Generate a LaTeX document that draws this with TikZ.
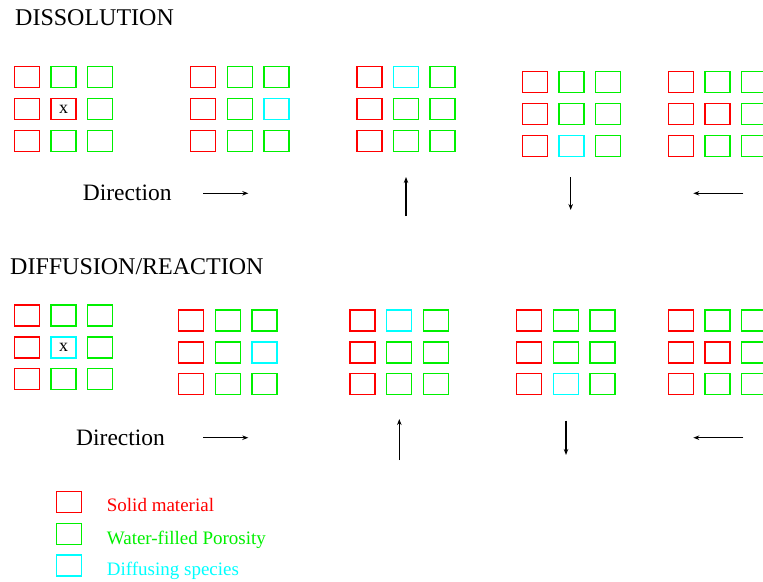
\documentclass[tikz,border=0pt]{standalone}
\usepackage{fontspec}
\setmainfont{Liberation Serif}
\usetikzlibrary{arrows.meta}
\definecolor{solidc}{RGB}{255,0,0}
\definecolor{waterc}{RGB}{0,240,0}
\definecolor{diffc}{RGB}{0,255,255}
\colorlet{r}{solidc}
\colorlet{g}{waterc}
\colorlet{c}{diffc}

% 3x3 block of cells: name, left x, top y, nine colours row by row
\newcommand\cellgrid[4]{%
  \foreach \cc [count=\i from 0] in {#4} {
    \pgfmathtruncatemacro\rr{div(\i,3)}
    \pgfmathtruncatemacro\kk{mod(\i,3)}
    \node[cell, draw=\cc] (#1-\rr\kk) at ({#2+36.7*\kk},{#3+31.8*\rr}) {};
  }%
}

\begin{document}
\begin{tikzpicture}[x=1pt,y=-1pt,
  cell/.style={line width=1.5pt, minimum width=25pt, minimum height=21pt,
    inner sep=0pt, outer sep=0pt, anchor=north west},
  heading/.style={font=\fontsize{24}{24}\selectfont, inner sep=0pt, anchor=base west},
  dirlabel/.style={font=\fontsize{23.5}{23.5}\selectfont, inner sep=0pt, anchor=base west},
  legtext/.style={font=\fontsize{19}{19}\selectfont, inner sep=0pt, anchor=base west},
  xmark/.style={font=\fontsize{18}{18}\selectfont, inner sep=0pt},
  dirarrow/.style={line width=1.1pt, -{Stealth[length=6pt,width=4.5pt]}}]

\useasboundingbox[fill=white] (0,0) rectangle (763,581);

% ---------- Dissolution ----------
\node[heading] (tdis) at (15,25) {DISSOLUTION};

\cellgrid{d1}{14.3}{66.7}{r,g,g, r,r,g, r,g,g}
\node[xmark] (dx) at (d1-11.center) {x};
\cellgrid{d2}{190.7}{66.7}{r,g,g, r,g,c, r,g,g}
\cellgrid{d3}{356.8}{66.7}{r,c,g, r,g,g, r,g,g}
\cellgrid{d4}{522.3}{71.7}{r,g,g, r,g,g, r,c,g}
\cellgrid{d5}{668.3}{71.7}{r,g,g, r,r,g, r,g,g}

\node[dirlabel] (tdir1) at (82.7,200) {Direction};
\coordinate (da1s) at (203.3,193.3);  \coordinate (da1e) at (248.3,193.3);
\coordinate (da2s) at (406,216);      \coordinate (da2e) at (406,177);
\coordinate (da3s) at (570.7,177);    \coordinate (da3e) at (570.7,210);
\coordinate (da4s) at (743.3,193.3);  \coordinate (da4e) at (693.3,193.3);
\draw[dirarrow] (da1s) -- (da1e);
\draw[dirarrow] (da2s) -- (da2e);
\draw[dirarrow] (da3s) -- (da3e);
\draw[dirarrow] (da4s) -- (da4e);

% ---------- Diffusion / reaction ----------
\node[heading] (tdif) at (10,274) {DIFFUSION/REACTION};

\cellgrid{f1}{14.3}{305}{r,g,g, r,c,g, r,g,g}
\node[xmark] (fx) at (f1-11.center) {x};
\cellgrid{f2}{178.7}{310}{r,g,g, r,g,c, r,g,g}
\cellgrid{f3}{350}{310}{r,c,g, r,g,g, r,g,g}
\cellgrid{f4}{516.7}{310}{r,g,g, r,g,g, r,c,g}
\cellgrid{f5}{668.3}{310}{r,g,g, r,r,g, r,g,g}

\node[dirlabel] (tdir2) at (76,445) {Direction};
\coordinate (fa1s) at (203.3,437.7);  \coordinate (fa1e) at (248.3,437.7);
\coordinate (fa2s) at (399.3,460);    \coordinate (fa2e) at (399.3,419);
\coordinate (fa3s) at (566,420.7);    \coordinate (fa3e) at (566,455);
\coordinate (fa4s) at (743.3,437.7);  \coordinate (fa4e) at (693.3,437.7);
\draw[dirarrow] (fa1s) -- (fa1e);
\draw[dirarrow] (fa2s) -- (fa2e);
\draw[dirarrow] (fa3s) -- (fa3e);
\draw[dirarrow] (fa4s) -- (fa4e);

% ---------- Legend ----------
\node[cell, draw=r] (ls) at (56.7,491.7) {};
\node[cell, draw=g] (lw) at (56.7,523.3) {};
\node[cell, draw=c] (ld) at (56.7,555) {};
\node[legtext, text=r] (lst) at (106.7,511.5) {Solid material};
\node[legtext, text=g] (lwt) at (106.7,544) {Water-filled Porosity};
\node[legtext, text=c] (ldt) at (106.7,575) {Diffusing species};
\end{tikzpicture}
\end{document}
